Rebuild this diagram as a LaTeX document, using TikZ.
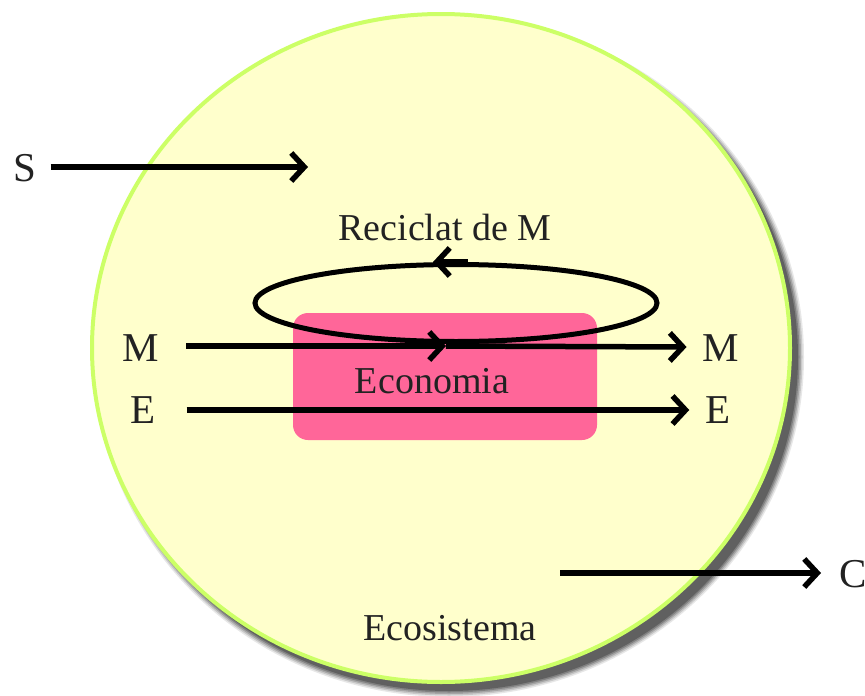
\documentclass[tikz,border=0pt]{standalone}
\usepackage{fontspec}
\setmainfont{Liberation Serif}
\usetikzlibrary{arrows.meta,shapes.geometric,calc}
\definecolor{ecofill}{HTML}{FFFFCC}
\definecolor{ecoline}{HTML}{CCFF66}
\definecolor{econfill}{HTML}{FF6699}
\definecolor{txt}{HTML}{222222}
\tikzset{
  flow/.style={line width=5.5pt,-{Straight Barb[length=13pt,width=28pt,line width=5.5pt]}},
  lbl/.style={font=\fontsize{38}{40}\selectfont,text=txt,inner sep=0pt},
  biglbl/.style={font=\fontsize{41}{43}\selectfont,text=txt,inner sep=0pt},
}
\begin{document}
\begin{tikzpicture}[x=1pt,y=-1pt]
\useasboundingbox[fill=white] (0,0) rectangle (865,696);
% soft drop shadow of the ecosystem
\foreach \g/\op in {12/0.12,9/0.18,6/0.25,3/0.35,0/0.5}{
  \fill[black!75,opacity=\op] (449,357) ellipse [x radius=349+\g/2, y radius=334+\g/2];
}
% ecosystem
\node[ellipse,draw=ecoline,fill=ecofill,line width=4pt,minimum width=698pt,minimum height=668pt,inner sep=0pt] (eco) at (441,348) {};
% economy
\node[rounded corners=15pt,fill=econfill,minimum width=304pt,minimum height=127pt,inner sep=0pt] (econ) at (445,376.5) {};
% recycling loop
\node[ellipse,draw=black,line width=5pt,minimum width=402pt,minimum height=77pt,inner sep=0pt] (loop) at (456,303) {};
\draw[flow] ($(loop.north)+(12,0)$) -- ($(loop.north)+(-23,0)$);
% labels
\node[lbl] (rec) at (445,228) {Reciclat de M};
\node[lbl] (econlbl) at (432,381) {Economia};
\node[lbl] (ecolbl) at (450,628) {Ecosistema};
\node[biglbl] (S) at (25,168) {S};
\node[biglbl] (Min) at (141,348) {M};
\node[biglbl] (Ein) at (143,410) {E};
\node[biglbl] (Mout) at (721,348) {M};
\node[biglbl] (Eout) at (718,410) {E};
\node[biglbl,anchor=west] (C) at (839,574) {C};
% flows
\coordinate (sEnd) at (308,167);
\coordinate (mMid) at (446,346);
\coordinate (cStart) at (560,573);
\draw[flow] ($(S.east)+(14,-1)$) -- (sEnd);
\draw[flow] ($(Min.east)+(27,-2)$) -- (mMid);
\draw[flow] (mMid) -- ($(Mout.west)+(-16,-1)$);
\draw[flow] ($(Ein.east)+(31,0)$) -- ($(Eout.west)+(-16,0)$);
\draw[flow] (cStart) -- ($(C.west)+(-18,-1)$);
\end{tikzpicture}
\end{document}
